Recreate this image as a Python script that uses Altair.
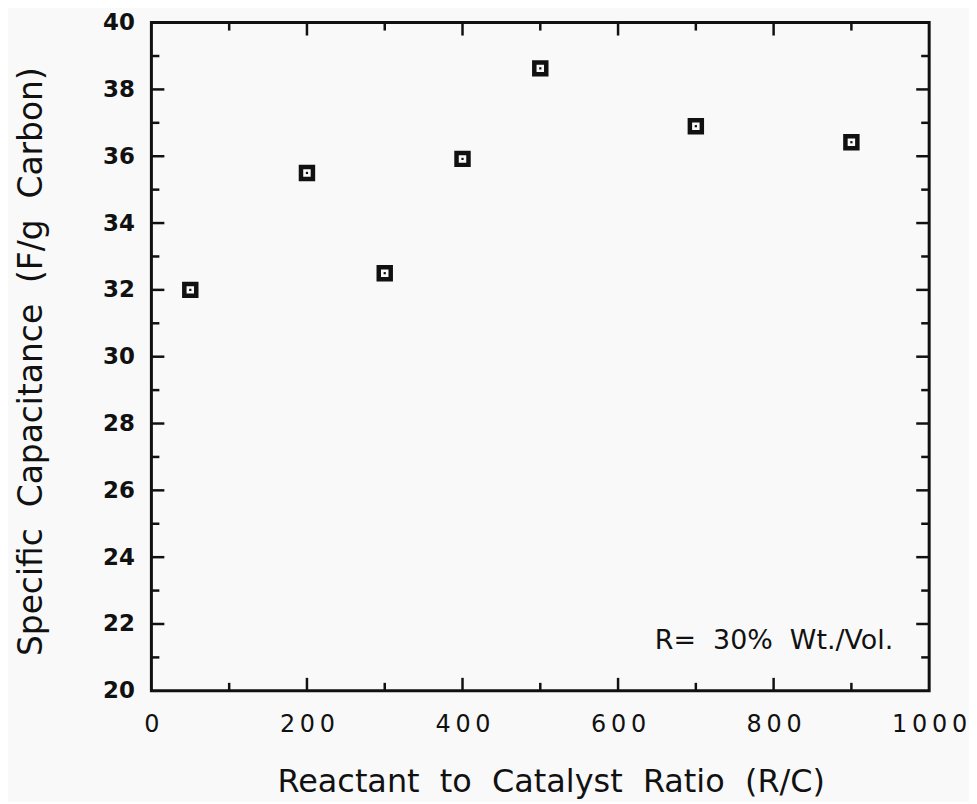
import altair as alt
import pandas as pd

# ---- data ----
rc_ratio = [50, 200, 300, 400, 500, 700, 900]
capacitance = [32.0, 35.5, 32.5, 35.92, 38.63, 36.9, 36.42]

x_label_values = [0, 200, 400, 600, 800, 1000]
y_label_values = [20, 22, 24, 26, 28, 30, 32, 34, 36, 38, 40]
x_major_ticks = [200, 400, 600, 800]
x_minor_ticks = [100, 300, 500, 700, 900]
y_major_ticks = [22, 24, 26, 28, 30, 32, 34, 36, 38]
y_minor_ticks = [21, 23, 25, 27, 29, 31, 33, 35, 37, 39]

x_title = "Reactant \u00a0to \u00a0Catalyst \u00a0Ratio \u00a0(R/C)"
y_title = "Specific \u00a0Capacitance \u00a0(F/g \u00a0Carbon)"
note = "R= \u00a030% \u00a0Wt./Vol."

# ---- layout / style ----
W, H = 781, 671
INK = "#111111"
BG = "#f9f9f9"
MAJOR, MINOR = 13, 8

xs = alt.Scale(domain=[0, 1000], nice=False, zero=False)
ys = alt.Scale(domain=[20, 40], nice=False, zero=False)

x_axis = alt.Axis(
    values=x_label_values, format="d",
    labelExpr="join(split(datum.label, ''), '\u2009')",
    labelFont="DejaVu Sans", labelFontSize=24, labelColor=INK,
    labelPadding=22, labelFlush=False, labelOverlap=False,
    title=x_title, titleFont="DejaVu Sans", titleFontSize=32,
    titleFontWeight="normal", titleColor=INK,
    titleX=401, titleY=101, titleBaseline="alphabetic", titleAlign="center",
    grid=False, domain=False, ticks=False, tickSize=0,
)
y_axis = alt.Axis(
    values=y_label_values, format="d",
    labelFont="DejaVu Sans", labelFontSize=23, labelFontWeight="bold",
    labelColor=INK, labelPadding=17, labelFlush=False, labelOverlap=False,
    title=y_title, titleFont="DejaVu Sans", titleFontSize=33,
    titleFontWeight="normal", titleColor=INK,
    titleX=-110, titleY=340, titleAngle=270, titleBaseline="alphabetic",
    titleAlign="center",
    grid=False, domain=False, ticks=False, tickSize=0,
)


def X():
    return alt.X("rc:Q", scale=xs, axis=x_axis)


def Y():
    return alt.Y("cap:Q", scale=ys, axis=y_axis)


df = pd.DataFrame({"rc": rc_ratio, "cap": capacitance})

points = alt.Chart(df).mark_square(
    size=144, filled=True, fill=BG, stroke=INK, strokeWidth=4.5, opacity=1
).encode(x=X(), y=Y())

dots = alt.Chart(df).mark_square(size=5, color=INK, opacity=1).encode(x=X(), y=Y())


def x_ticks(vals, length):
    d = pd.DataFrame({"rc": vals})
    bottom = alt.Chart(d).mark_rule(color=INK, strokeWidth=2.5).encode(
        x=X(), y=alt.value(H), y2=alt.value(H - length))
    top = alt.Chart(d).mark_rule(color=INK, strokeWidth=2.5).encode(
        x=X(), y=alt.value(0), y2=alt.value(length))
    return [bottom, top]


def y_ticks(vals, length):
    d = pd.DataFrame({"cap": vals})
    left = alt.Chart(d).mark_rule(color=INK, strokeWidth=2.5).encode(
        y=Y(), x=alt.value(0), x2=alt.value(length))
    right = alt.Chart(d).mark_rule(color=INK, strokeWidth=2.5).encode(
        y=Y(), x=alt.value(W), x2=alt.value(W - length))
    return [left, right]


label = alt.Chart(pd.DataFrame({"t": [note]})).mark_text(
    align="right", baseline="middle", font="DejaVu Sans", fontSize=27,
    color=INK
).encode(text="t:N", x=alt.value(745), y=alt.value(621))

layers = (
    x_ticks(x_major_ticks, MAJOR) + x_ticks(x_minor_ticks, MINOR)
    + y_ticks(y_major_ticks, MAJOR) + y_ticks(y_minor_ticks, MINOR)
    + [points, dots, label]
)

chart = alt.layer(*layers).properties(
    width=W, height=H,
    autosize=alt.AutoSizeParams(type="none"),
    padding={"left": 144, "top": 13, "right": 40, "bottom": 110},
    background=BG,
).configure_view(stroke=INK, strokeWidth=3)

chart.save("out.html", embed_options={"renderer": "svg", "actions": False})
